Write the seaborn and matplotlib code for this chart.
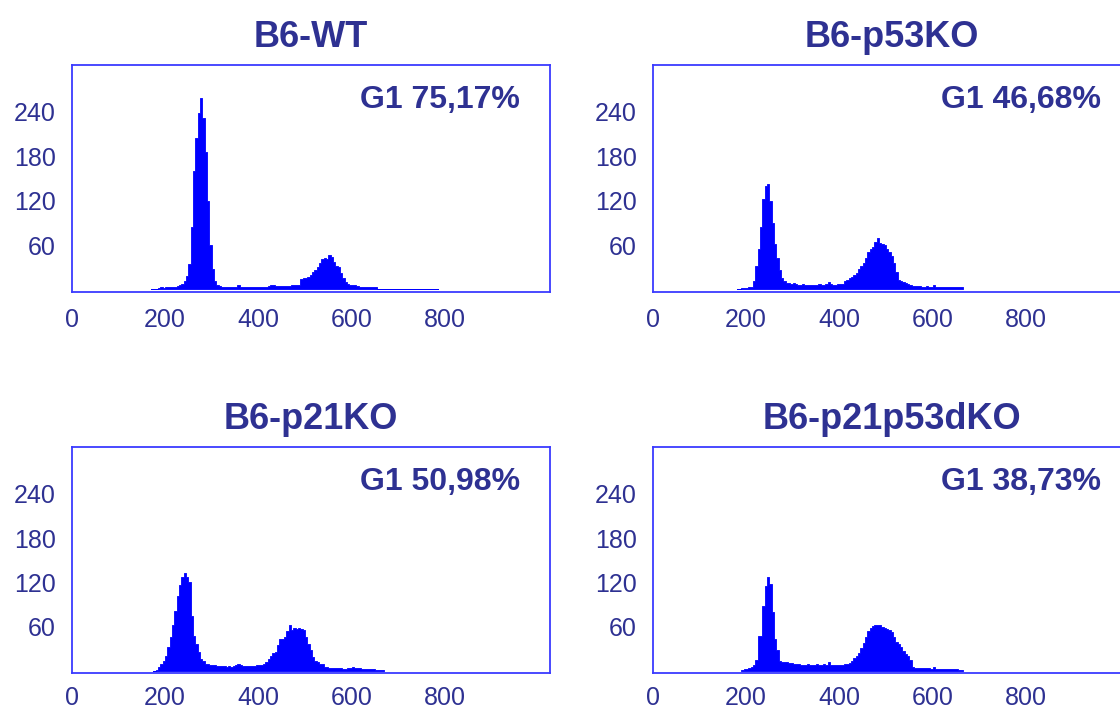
import numpy as np
import pandas as pd
import matplotlib
matplotlib.use("Agg")
import matplotlib.pyplot as plt
import seaborn as sns

# ---------------- data ----------------
BIN_WIDTH = 5
titles = ["B6-WT", "B6-p53KO", "B6-p21KO", "B6-p21p53dKO"]
g1_labels = ["G1 75,17%", "G1 46,68%", "G1 50,98%", "G1 38,73%"]
x_ticks = [0, 200, 400, 600, 800, 1010]
x_tick_labels = ["0", "200", "400", "600", "800", ""]
y_ticks = [60, 120, 180, 240]
y_tick_labels = ["60", "120", "180", "240"]

wt_start = 170
wt_counts = [
    0, 0, 1, 2, 3, 2, 4, 3, 3, 3,
    4, 5, 6, 8, 12, 18, 35, 85, 160, 205,
    238, 258, 232, 185, 120, 60, 28, 12, 6, 5,
    4, 4, 4, 3, 4, 3, 4, 6, 4, 4,
    4, 3, 4, 4, 4, 4, 4, 4, 4, 4,
    5, 6, 6, 5, 5, 5, 5, 5, 5, 5,
    6, 6, 6, 6, 14, 16, 16, 17, 20, 23,
    26, 31, 36, 41, 42, 41, 47, 44, 37, 32,
    30, 22, 15, 10, 7, 6, 6, 6, 5, 4,
    3, 3, 3, 3, 4, 3, 4, 1, 1, 1,
    1, 1, 1, 1, 1, 1, 1, 1, 1, 1,
    1, 1, 1, 1, 1, 1, 1, 1, 1, 1,
    1, 1, 1,
]

p53_start = 180
p53_counts = [
    1, 1, 2, 2, 2, 3, 4, 12, 32, 55,
    85, 122, 140, 142, 120, 90, 62, 42, 26, 16,
    11, 9, 9, 8, 9, 8, 6, 6, 7, 6,
    6, 6, 6, 6, 6, 7, 6, 6, 7, 10,
    7, 6, 6, 7, 7, 8, 11, 13, 15, 17,
    19, 22, 28, 32, 36, 42, 50, 55, 58, 64,
    70, 63, 62, 60, 55, 51, 45, 36, 24, 13,
    11, 10, 9, 8, 6, 5, 5, 5, 5, 4,
    4, 5, 4, 4, 6, 3, 3, 3, 3, 3,
    3, 3, 3, 3, 3, 3, 3,
]

p21_start = 175
p21_counts = [
    0, 2, 6, 9, 13, 20, 32, 46, 63, 82,
    102, 116, 128, 133, 128, 120, 75, 48, 36, 26,
    17, 13, 10, 9, 8, 8, 8, 7, 7, 7,
    7, 6, 7, 6, 7, 8, 9, 8, 7, 7,
    7, 7, 7, 7, 8, 8, 8, 9, 12, 16,
    20, 25, 26, 35, 43, 44, 46, 54, 62, 55,
    59, 57, 58, 57, 56, 46, 36, 28, 19, 14,
    12, 10, 9, 6, 5, 4, 4, 4, 4, 4,
    4, 3, 3, 4, 4, 5, 4, 4, 4, 3,
    3, 3, 3, 3, 3, 2, 2, 2, 1,
]

dko_start = 190
dko_counts = [
    2, 3, 3, 4, 6, 8, 15, 48, 48, 88,
    115, 127, 118, 80, 43, 28, 14, 12, 12, 12,
    11, 11, 10, 9, 9, 8, 8, 8, 9, 8,
    8, 8, 9, 8, 8, 9, 8, 12, 8, 8,
    8, 8, 8, 8, 10, 10, 11, 14, 18, 21,
    25, 31, 38, 46, 54, 59, 61, 62, 63, 62,
    60, 58, 57, 56, 53, 46, 40, 36, 33, 27,
    23, 21, 15, 5, 4, 4, 4, 4, 4, 4,
    4, 3, 5, 3, 3, 3, 3, 3, 3, 3,
    3, 3, 3, 2, 2,
]

starts = [wt_start, p53_start, p21_start, dko_start]
counts = [wt_counts, p53_counts, p21_counts, dko_counts]

rows = []
for name, s, c in zip(titles, starts, counts):
    for i, v in enumerate(c):
        rows.append({"sample": name, "channel": s + BIN_WIDTH * i + BIN_WIDTH / 2, "count": v})
df = pd.DataFrame(rows)

# ---------------- style ----------------
sns.set_theme(style="white")
plt.rcParams["font.family"] = ["Liberation Sans", "DejaVu Sans"]

NAVY = "#2e3192"
BLUE = "#0000ff"
SPINE = "#3a3aff"

W, H = 1120, 711
fig = plt.figure(figsize=(W / 100, H / 100), dpi=100)
fig.patch.set_facecolor("white")

# axes boxes in pixels: (left, top, width, height)
boxes = [
    (71.7, 65.0, 478.3, 226.7),
    (652.7, 65.0, 478.3, 226.7),
    (71.7, 447.3, 478.3, 226.0),
    (652.7, 447.3, 478.3, 226.0),
]

for k, (name, s, c) in enumerate(zip(titles, starts, counts)):
    l, t, w, h = boxes[k]
    ax = fig.add_axes([l / W, (H - t - h) / H, w / W, h / H])
    sub = df[df["sample"] == name]
    edges = [float(s + BIN_WIDTH * i) for i in range(len(c) + 1)]
    sns.histplot(data=sub, x="channel", weights="count", bins=edges,
                 element="step", fill=True, color=BLUE, alpha=1.0,
                 linewidth=0.6, edgecolor=BLUE, ax=ax)
    ax.set_xlim(0, 1025)
    ax.set_ylim(-3, 303)
    ax.set_xlabel("")
    ax.set_ylabel("")
    ax.set_xticks(x_ticks)
    ax.set_xticklabels(x_tick_labels)
    ax.set_yticks(y_ticks)
    ax.set_yticklabels(y_tick_labels)
    for sp in ax.spines.values():
        sp.set_visible(True)
        sp.set_color(SPINE)
        sp.set_linewidth(1.3)
    ax.tick_params(axis="both", which="major", direction="in", color=SPINE,
                   width=1.1, labelcolor=NAVY, labelsize=18, pad=11.5)
    ax.tick_params(axis="y", length=6)
    ax.tick_params(axis="x", length=3, pad=(11.5 if k < 2 else 9.5))
    ax.set_facecolor("white")
    ax.set_title(name, fontsize=26, fontweight="bold", color=NAVY, pad=13)
    ax.text(0.937, 0.81, g1_labels[k], transform=ax.transAxes, ha="right",
            va="baseline", fontsize=23, fontweight="bold", color=NAVY)

fig.savefig("out.png", dpi=100, facecolor="white")
